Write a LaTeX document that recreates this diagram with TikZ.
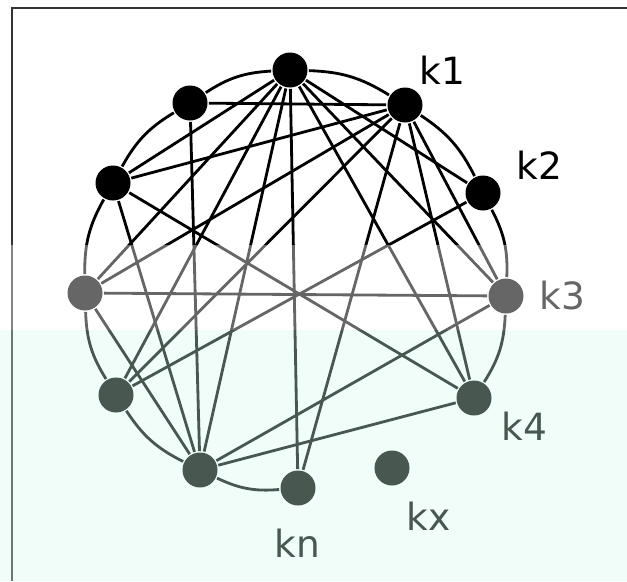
\documentclass[tikz,border=0pt]{standalone}
\usepackage{fontspec}
\setmainfont{DejaVu Sans}
\definecolor{mint}{RGB}{211,250,234}
\tikzset{
  vertex/.style={circle,fill=black,inner sep=0pt,minimum size=1.05cm},
  tag/.style={anchor=base west,inner sep=0pt,font=\fontsize{32}{38}\selectfont},
}
\begin{document}
\begin{tikzpicture}[x=0.03cm,y=-0.03cm,line width=2.4pt]
      \useasboundingbox (0,0) rectangle (627,581);
      \draw[line width=1.2pt,black!80] (12,581) -- (12,8) -- (627,8);
      \draw
        (290,70) node[vertex] (a){}
        (190,103) node[vertex] (b){}
        (113,183) node[vertex] (c){}
        (85,293) node[vertex] (d){}
        (116,395) node[vertex] (e){}
        (200,470) node[vertex] (f){}
        (298,488) node[vertex] (kn){}
        (392,468) node[vertex] (kx){}
        (474,398) node[vertex] (k4){}
        (506,296) node[vertex] (k3){}
        (483,193) node[vertex] (k2){}
        (405,105) node[vertex] (k1){};
      \draw
        (418,84) node[tag] (t1){k1}
        (515,179) node[tag] (t2){k2}
        (538,309) node[tag] (t3){k3}
        (500,440) node[tag] (t4){k4}
        (273,557) node[tag] (tn){kn}
        (405,530) node[tag] (tx){kx};
      % rim
      \begin{scope}[bend left=15]
        \draw (a) to (k1);
        \draw (k1) to (k2);
        \draw (k2) to (k3);
        \draw (k3) to (k4);
        \draw (kn) to (f);
        \draw (f) to (e);
        \draw (e) to (d);
        \draw (d) to (c);
        \draw (c) to (b);
        \draw (b) to (a);
      \end{scope}
      % chords
      \begin{scope}[-]
        \draw (a) to (c);
        \draw (a) to (d);
        \draw (a) to (e);
        \draw (a) to (f);
        \draw (a) to (kn);
        \draw (a) to (k4);
        \draw (a) to (k3);
        \draw (a) to (k2);
        \draw (b) to (k1);
        \draw (b) to (f);
        \draw (c) to (k1);
        \draw (c) to (k4);
        \draw (c) to (f);
        \draw (d) to (k3);
        \draw (d) to (k1);
        \draw (d) to (f);
        \draw (e) to (k2);
        \draw (e) to (k1);
        \draw (f) to (k3);
        \draw (f) to (k4);
        \draw (k1) to (kn);
        \draw (k1) to (k3);
        \draw (k1) to (k4);
      \end{scope}
      \fill[white,opacity=0.4] (0,245) rectangle (627,330);
      \fill[mint,opacity=0.35] (0,330) rectangle (627,581);
    \end{tikzpicture}
\end{document}
